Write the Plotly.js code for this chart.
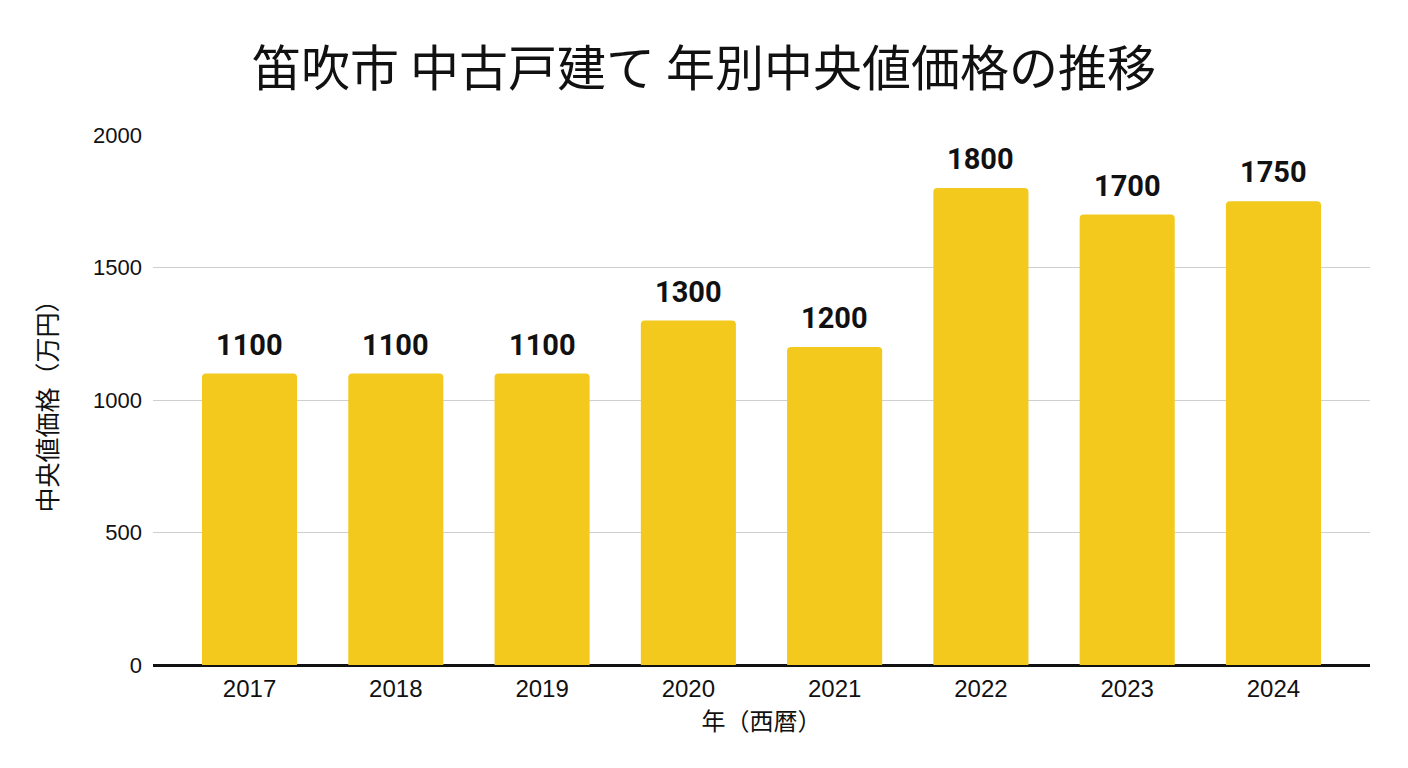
<!DOCTYPE html>
<html>
<head>
<meta charset="utf-8">
<script src="https://cdn.plot.ly/plotly-3.0.1.min.js"></script>
<style>
  html, body { margin: 0; padding: 0; background: #fff; }
  #chart { width: 1408px; height: 768px; }
</style>
</head>
<body>
<div id="chart"></div>
<script>
// 年別の中央値価格（万円）
var years = ['2017', '2018', '2019', '2020', '2021', '2022', '2023', '2024'];
var medianPrices = [1100, 1100, 1100, 1300, 1200, 1800, 1700, 1750];

var barColor = '#F2C91C';
var fontFamily = 'Liberation Sans, Arial, Noto Sans CJK JP, sans-serif';
var cjkFamily = 'Noto Sans CJK JP, sans-serif';

var trace = {
  x: years,
  y: medianPrices,
  type: 'bar',
  marker: { color: barColor, cornerradius: 4 },
  hoverinfo: 'x+y'
};

// 値ラベルは注釈で少し上に置く（カテゴリ軸なので x は番号）
var labels = years.map(function (yr, i) {
  return {
    x: i,
    y: medianPrices[i],
    text: '<b>' + medianPrices[i] + '</b>',
    showarrow: false,
    yanchor: 'bottom',
    yshift: 10,
    font: { family: 'Roboto, Liberation Sans, sans-serif', size: 29, color: '#111' }
  };
});

var layout = {
  width: 1408,
  height: 768,
  margin: { l: 153, r: 38, t: 135, b: 103 },
  paper_bgcolor: '#fff',
  plot_bgcolor: '#fff',
  showlegend: false,
  bargap: 0.35,
  font: { family: fontFamily, color: '#111' },
  title: {
    text: '笛吹市 中古戸建て 年別中央値価格の推移',
    font: { family: cjkFamily, size: 49, color: '#111' },
    x: 0.5,
    xanchor: 'center',
    y: 0.91,
    yanchor: 'middle'
  },
  xaxis: {
    type: 'category',
    range: [-0.66, 7.66],
    tickfont: { size: 24, family: fontFamily, color: '#111' },
    ticks: 'outside',
    ticklen: 2,
    tickcolor: 'rgba(0,0,0,0)',
    showgrid: false,
    showline: true,
    linecolor: '#111',
    linewidth: 1.5,
    title: {
      text: '年（西暦）',
      font: { family: cjkFamily, size: 24, color: '#111' },
      standoff: 12
    }
  },
  yaxis: {
    range: [0, 2000],
    dtick: 500,
    tickfont: { size: 22, family: fontFamily, color: '#111' },
    ticks: '',
    ticklabelstandoff: 10,
    showgrid: true,
    gridcolor: '#cfcfcf',
    gridwidth: 1,
    zeroline: true,
    zerolinecolor: '#111',
    zerolinewidth: 1.5,
    title: {
      text: '中央値価格（万円）',
      font: { family: cjkFamily, size: 25, color: '#111' },
      standoff: 28
    }
  },
  annotations: labels
};

Plotly.newPlot('chart', [trace], layout, { displayModeBar: false, staticPlot: true });
</script>
</body>
</html>
